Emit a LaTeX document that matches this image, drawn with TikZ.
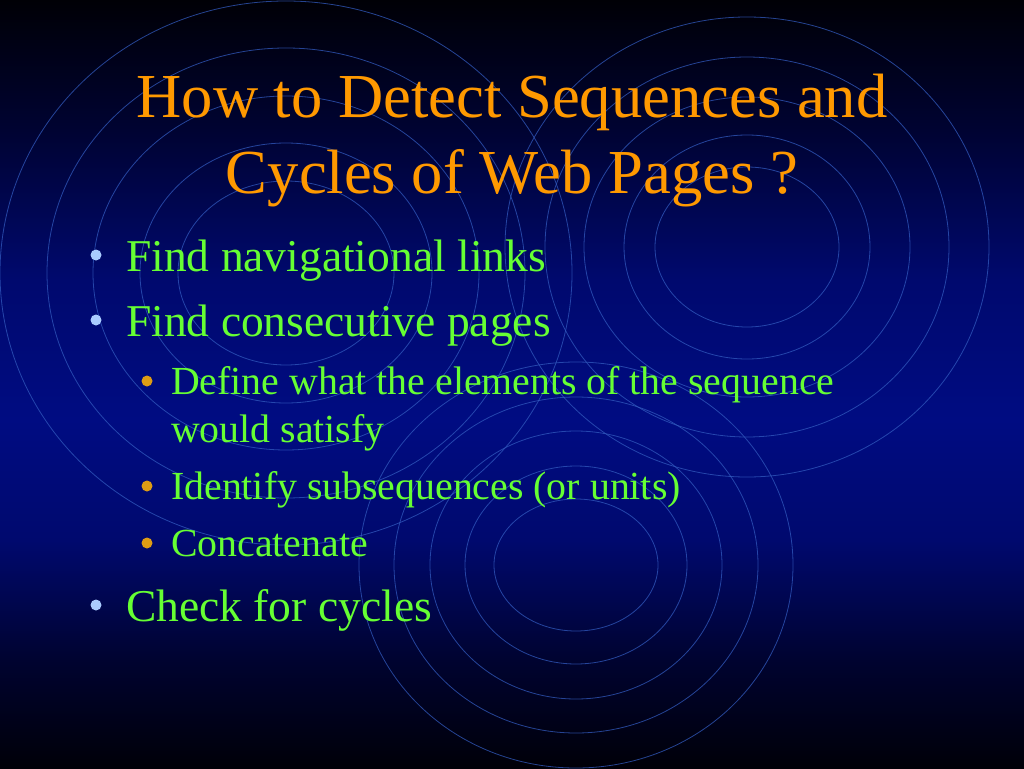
\documentclass[tikz,border=0pt]{standalone}
\usepackage{fontspec}
\setmainfont{Liberation Serif}
\definecolor{bgA}{RGB}{0,0,6}
\definecolor{bgB}{RGB}{0,3,50}
\definecolor{bgC}{RGB}{0,9,110}
\definecolor{bgD}{RGB}{0,12,130}
\definecolor{bgE}{RGB}{0,9,110}
\definecolor{bgF}{RGB}{0,3,48}
\definecolor{bgG}{RGB}{0,0,8}
\definecolor{ringcol}{RGB}{50,90,190}
\definecolor{titlecol}{RGB}{255,153,0}
\definecolor{textcol}{RGB}{102,255,51}
\definecolor{dotA}{RGB}{170,204,255}
\definecolor{dotB}{RGB}{222,156,20}
\pgfdeclareverticalshading{slidebg}{100bp}{color(0bp)=(bgG); color(25bp)=(bgG); color(32.03bp)=(bgF); color(39.84bp)=(bgE); color(47.66bp)=(bgD); color(56.77bp)=(bgC); color(66.54bp)=(bgB); color(75bp)=(bgA); color(100bp)=(bgA)}
\begin{document}
\begin{tikzpicture}[x=1pt,y=-1pt,
  ring/.style={draw=ringcol,line width=0.8pt,draw opacity=0.75},
  titletext/.style={anchor=base,inner sep=0pt,text=titlecol,font=\fontsize{62.6}{75}\selectfont},
  lvlone/.style={anchor=base west,inner sep=0pt,text=textcol,font=\fontsize{45.5}{54}\selectfont},
  lvltwo/.style={anchor=base west,inner sep=0pt,text=textcol,font=\fontsize{39.8}{48}\selectfont},
  dotone/.style={circle,fill=dotA,inner sep=0pt,minimum size=11pt},
  dottwo/.style={circle,fill=dotB,inner sep=0pt,minimum size=11pt}]
\useasboundingbox (0,0) rectangle (1024,768);
% background gradient
\shade[shading=slidebg] (0,0) rectangle (1024,768);
% rings: left group
\foreach \rx/\ry in {108/92,146/130,193/177,239/225,286/272}
  \draw[ring] (286,273) ellipse [x radius=\rx pt,y radius=\ry pt];
% rings: right group
\foreach \rx/\ry in {92/80,123/112,163/150,202/190,242/230}
  \draw[ring] (747,247) ellipse [x radius=\rx pt,y radius=\ry pt];
% rings: bottom group
\foreach \rx/\ry in {82/66,111/99,146/134,182/168,217/203}
  \draw[ring] (576,565) ellipse [x radius=\rx pt,y radius=\ry pt];
% title
\node[titletext] (t1) at (512,117) {How to Detect Sequences and};
\node[titletext] (t2) at (512,193) {Cycles of Web Pages ?};
% bullets
\node[dotone] (d1) at (96,255) {};
\node[lvlone] (b1) at (126,271) {Find navigational links};
\node[dotone] (d2) at (96,320) {};
\node[lvlone] (b2) at (126,336) {Find consecutive pages};
\node[dottwo] (d3) at (147,381) {};
\node[lvltwo] (s1) at (171,394) {Define what the elements of the sequence};
\node[lvltwo] (s1b) at (171,442) {would satisfy};
\node[dottwo] (d4) at (147,486) {};
\node[lvltwo] (s2) at (171,499) {Identify subsequences (or units)};
\node[dottwo] (d5) at (147,543) {};
\node[lvltwo] (s3) at (171,556) {Concatenate};
\node[dotone] (d6) at (96,605) {};
\node[lvlone] (b3) at (126,621) {Check for cycles};
\end{tikzpicture}
\end{document}
